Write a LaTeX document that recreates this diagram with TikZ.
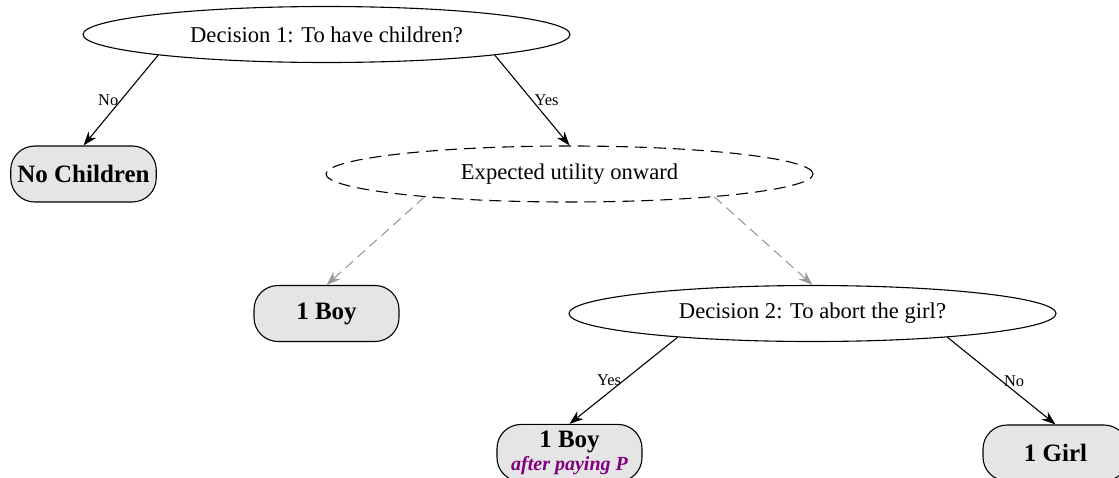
\documentclass[tikz,border=0pt]{standalone}
\usepackage{fontspec}
\setmainfont{Liberation Serif}
\usetikzlibrary{arrows.meta,positioning,shapes.geometric}
\definecolor{paypurple}{RGB}{128,0,128}
\tikzset{
    %Define standard arrow tip
    >={Stealth[length=7pt,width=5pt]},
    %Define style for decisions
    decision/.style={
           ellipse,
           draw=black, line width=0.55pt,
           minimum width=243.5pt,
           minimum height=28pt,
           inner sep=0pt,
           font=\fontsize{11.3}{13}\selectfont,
           text centered},
    onward/.style={
           decision,
           dash pattern=on 6pt off 3.5pt},
    %Define style for outcomes
    outcome/.style={
           rectangle,
           rounded corners=12pt,
           draw=black, line width=0.55pt,
           minimum width=72.5pt,
           minimum height=28pt,
           font=\fontsize{12.5}{11.5}\selectfont\bfseries,
           align=center,
           fill=black!10!white},
    % Define arrow style
    pil/.style={
           ->,
           black,
           line width=0.55pt},
    faint/.style={
           ->,
           black!40,
           line width=0.55pt,
           dash pattern=on 5pt off 3pt},
    lbl/.style={font=\fontsize{8.2}{9}\selectfont, inner sep=1pt}
}

\begin{document}
\begin{tikzpicture}[node distance=69.75pt and 121.5pt, on grid]
\useasboundingbox (0,0) rectangle (559.5pt,-238.5pt);
\node[decision] (d1) at (163.25pt,-17.25pt) {Decision 1: To have children?};
\node[outcome, below left=of d1] (nokids) {No Children};
\node[onward, below right=of d1] (eu) {Expected utility onward};
\node[outcome, below left=of eu] (boy) {1 Boy};
\node[decision, below right=of eu] (d2) {Decision 2: To abort the girl?};
\node[outcome, below left=of d2] (boypaid) {1 Boy\\{\fontsize{10}{11}\selectfont\itshape\color{paypurple}after paying P}};
\node[outcome, below right=of d2] (girl) {1 Girl};
 \path[pil, every node/.style={lbl}]
    (d1.187.4) edge node[left] {No} (nokids.north)
    (d1.353.3) edge node[right] {Yes} (eu.north)
    (d2.190.6) edge node[left] {Yes} (boypaid.north)
    (d2.350.4) edge node[right] {No} (girl.north);
 \path[faint]
    (eu.189.3) edge (boy.north)
    (eu.351.3) edge (d2.north);
\end{tikzpicture}
\end{document}
